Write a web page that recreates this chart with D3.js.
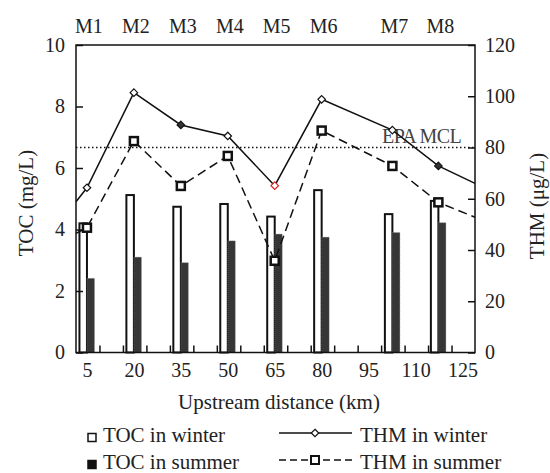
<!DOCTYPE html>
<html>
<head>
<meta charset="utf-8">
<script src="https://cdn.jsdelivr.net/npm/d3@7"></script>
<style>
  body { margin: 0; background: #fff; }
</style>
</head>
<body>
<div id="chart"></div>
<script>
/* DATA */
const sites = ["M1", "M2", "M3", "M4", "M5", "M6", "M7", "M8"];
const distance = [5, 20, 35, 50, 65, 80, 102.6, 117.3];        // km upstream
const tocWinter = [4.2, 5.12, 4.74, 4.83, 4.42, 5.28, 4.5, 4.93]; // mg/L
const tocSummer = [2.41, 3.1, 2.92, 3.63, 3.85, 3.75, 3.9, 4.22];
const thmWinter = [64.3, 101.4, 88.8, 84.5, 65.1, 98.8, 86.8, 72.8]; // ug/L
const thmSummer = [48.7, 82.5, 65.0, 76.7, 35.8, 86.6, 72.8, 58.6];
// where the lines meet the left and right frame
const thmWinterEnds = [58.8, 66.0];
const thmSummerEnds = [46.5, 52.8];
const epaMCL = 80;
const xTickLabels = [5, 20, 35, 50, 65, 80, 95, 110, 125];
const tocTicks = [0, 2, 4, 6, 8, 10];
const thmTicks = [0, 20, 40, 60, 80, 100, 120];

/* CONSTANTS */
const width = 550, height = 473,
  margin = { top: 45, right: 75, bottom: 120.5, left: 76 },
  tickFont = 20,
  titleFont = 21,
  fontFamily = "'Liberation Serif', 'Times New Roman', Times, 'DejaVu Serif', serif",
  barW = 7.5;

const xDomain = [1.5, 129];

const svg = d3.select("#chart").append("svg")
  .attr("width", width)
  .attr("height", height)
  .style("font-family", fontFamily);

// scales
const x = d3.scaleLinear().domain(xDomain).range([margin.left, width - margin.right]);
const yToc = d3.scaleLinear().domain([0, 10]).range([height - margin.bottom, margin.top]);
const yThm = d3.scaleLinear().domain([0, 120]).range([height - margin.bottom, margin.top]);

const rows = sites.map((s, i) => ({
  site: s, km: distance[i],
  tw: tocWinter[i], ts: tocSummer[i],
  hw: thmWinter[i], hs: thmSummer[i]
}));

// bars
svg.selectAll(".bar-winter")
  .data(rows)
  .join("rect")
  .attr("class", "bar-winter")
  .attr("x", d => x(d.km) - barW)
  .attr("y", d => yToc(d.tw))
  .attr("width", barW)
  .attr("height", d => yToc(0) - yToc(d.tw))
  .attr("fill", "#fff")
  .attr("stroke", "#111")
  .attr("stroke-width", 2);

svg.selectAll(".bar-summer")
  .data(rows)
  .join("rect")
  .attr("class", "bar-summer")
  .attr("x", d => x(d.km))
  .attr("y", d => yToc(d.ts))
  .attr("width", barW)
  .attr("height", d => yToc(0) - yToc(d.ts))
  .attr("fill", "#363636")
  .attr("stroke", "#777")
  .attr("stroke-width", 0.6)
  .attr("stroke-dasharray", "1,1");

// MCL reference line
svg.append("line")
  .attr("x1", x(xDomain[0])).attr("x2", x(xDomain[1]))
  .attr("y1", yThm(epaMCL)).attr("y2", yThm(epaMCL))
  .attr("stroke", "#111")
  .attr("stroke-width", 1.5)
  .attr("stroke-dasharray", "1.5,2.5");

svg.append("text")
  .attr("x", 461)
  .attr("y", yThm(epaMCL) - 5)
  .attr("text-anchor", "end")
  .attr("font-size", tickFont)
  .attr("letter-spacing", -0.6)
  .attr("fill", "#444")
  .text("EPA MCL");

// lines
const line = d3.line().x(d => x(d[0])).y(d => yThm(d[1]));

const winterPts = [[xDomain[0], thmWinterEnds[0]], ...rows.map(d => [d.km, d.hw]), [xDomain[1], thmWinterEnds[1]]];
const summerPts = [[xDomain[0], thmSummerEnds[0]], ...rows.map(d => [d.km, d.hs]), [xDomain[1], thmSummerEnds[1]]];

svg.append("path")
  .attr("d", line(winterPts))
  .attr("fill", "none")
  .attr("stroke", "#111")
  .attr("stroke-width", 1.5);

svg.append("path")
  .attr("d", line(summerPts))
  .attr("fill", "none")
  .attr("stroke", "#111")
  .attr("stroke-width", 1.5)
  .attr("stroke-dasharray", "9,5");

// markers
const diamond = d3.symbol().type(d3.symbolDiamond2).size(36);
svg.selectAll(".mk-winter")
  .data(rows)
  .join("path")
  .attr("class", "mk-winter")
  .attr("d", diamond)
  .attr("transform", d => `translate(${x(d.km)},${yThm(d.hw)})`)
  .attr("fill", d => (d.site === "M3" || d.site === "M8") ? "#333" : "#fff")
  .attr("stroke", d => d.site === "M5" ? "#d22" : "#111")
  .attr("stroke-width", 1.2);

svg.selectAll(".mk-summer")
  .data(rows)
  .join("rect")
  .attr("class", "mk-summer")
  .attr("x", d => x(d.km) - 4)
  .attr("y", d => yThm(d.hs) - 4)
  .attr("width", 8)
  .attr("height", 8)
  .attr("fill", "#fff")
  .attr("stroke", "#111")
  .attr("stroke-width", 2.5);

// frame
svg.append("rect")
  .attr("x", margin.left)
  .attr("y", margin.top)
  .attr("width", width - margin.left - margin.right)
  .attr("height", height - margin.top - margin.bottom)
  .attr("fill", "none")
  .attr("stroke", "#111")
  .attr("stroke-width", 1.5);

// axes
const yAxisL = svg.append("g")
  .attr("transform", `translate(${margin.left},0)`)
  .call(d3.axisLeft(yToc).tickValues(tocTicks).tickSize(-7).tickPadding(11));

const yAxisR = svg.append("g")
  .attr("transform", `translate(${width - margin.right},0)`)
  .call(d3.axisRight(yThm).tickValues(thmTicks).tickSize(-7).tickPadding(10));

const xTicks = d3.range(xDomain[0] + 7.5, xDomain[1], 7.5);
const xAxisTicks = svg.append("g")
  .attr("transform", `translate(0,${height - margin.bottom})`)
  .call(d3.axisBottom(x).tickValues(xTicks).tickSize(-7).tickFormat(""));

const xAxisLabels = svg.append("g")
  .attr("transform", `translate(0,${height - margin.bottom})`)
  .call(d3.axisBottom(x).tickValues(xTickLabels).tickSize(0).tickPadding(10));

[yAxisL, yAxisR, xAxisTicks, xAxisLabels].forEach(g => {
  g.attr("font-family", fontFamily).attr("font-size", tickFont);
  g.select(".domain").remove();
  g.selectAll(".tick line").attr("stroke", "#111").attr("stroke-width", 1.5);
  g.selectAll(".tick text").attr("fill", "#222");
});
xAxisLabels.selectAll(".tick line").remove();

// site labels on top
svg.selectAll(".site")
  .data(rows)
  .join("text")
  .attr("class", "site")
  .attr("x", d => x(d.km) + 2)
  .attr("y", 33)
  .attr("text-anchor", "middle")
  .attr("font-size", tickFont)
  .attr("fill", "#222")
  .text(d => d.site);

// axis titles
svg.append("text")
  .attr("x", 279)
  .attr("y", 409)
  .attr("text-anchor", "middle")
  .attr("font-size", titleFont)
  .attr("fill", "#222")
  .text("Upstream distance (km)");

svg.append("text")
  .attr("transform", "translate(33,203) rotate(-90)")
  .attr("text-anchor", "middle")
  .attr("font-size", titleFont)
  .attr("fill", "#222")
  .text("TOC (mg/L)");

svg.append("text")
  .attr("transform", "translate(544,206) rotate(-90)")
  .attr("text-anchor", "middle")
  .attr("font-size", titleFont)
  .attr("fill", "#222")
  .text("THM (μg/L)");

// legend
const legendItems = [
  { label: "TOC in winter", kind: "barWinter", col: 0, row: 0 },
  { label: "TOC in summer", kind: "barSummer", col: 0, row: 1 },
  { label: "THM in winter", kind: "lineWinter", col: 1, row: 0 },
  { label: "THM in summer", kind: "lineSummer", col: 1, row: 1 }
];

const legend = svg.selectAll(".legend")
  .data(legendItems)
  .join("g")
  .attr("class", "legend")
  .attr("transform", d => `translate(${d.col ? 279 : 87},${442 + d.row * 27})`);

legend.each(function (d) {
  const g = d3.select(this);
  if (d.kind === "barWinter" || d.kind === "barSummer") {
    g.append("rect")
      .attr("x", 1).attr("y", -8.5)
      .attr("width", 8).attr("height", 8)
      .attr("fill", d.kind === "barWinter" ? "#fff" : "#111")
      .attr("stroke", "#111").attr("stroke-width", 1.5);
    g.append("text").attr("x", 16).attr("y", 0)
      .attr("font-size", titleFont).attr("fill", "#222").text(d.label);
  } else {
    g.append("line")
      .attr("x1", 0).attr("x2", 73).attr("y1", -9).attr("y2", -9)
      .attr("stroke", "#111").attr("stroke-width", 1.5)
      .attr("stroke-dasharray", d.kind === "lineSummer" ? "7,4" : null);
    if (d.kind === "lineWinter") {
      g.append("path").attr("d", diamond)
        .attr("transform", "translate(36,-9)")
        .attr("fill", "#fff").attr("stroke", "#111").attr("stroke-width", 1.2);
    } else {
      g.append("rect").attr("x", 32).attr("y", -13).attr("width", 8).attr("height", 8)
        .attr("fill", "#fff").attr("stroke", "#111").attr("stroke-width", 2);
    }
    g.append("text").attr("x", 81).attr("y", 0)
      .attr("font-size", titleFont).attr("fill", "#222").text(d.label);
  }
});
</script>
</body>
</html>
